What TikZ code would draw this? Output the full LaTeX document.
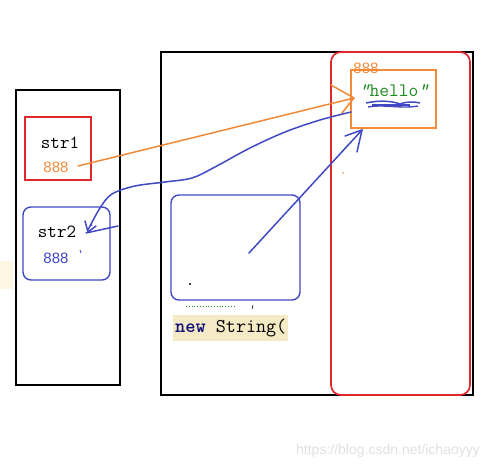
\documentclass[tikz,border=0pt]{standalone}
\usepackage{fontspec}
\setmainfont{Liberation Serif}
\newfontfamily\sansf{Liberation Sans}
\usetikzlibrary{arrows.meta}
\definecolor{cred}{HTML}{E0282C}
\definecolor{corange}{HTML}{F28A3A}
\definecolor{cblue}{HTML}{4048C4}
\definecolor{cgreen}{HTML}{1E8A1E}
\definecolor{cyellow}{HTML}{F4EAC6}
\definecolor{cfaint}{HTML}{FFF7E4}
\definecolor{cnavy}{HTML}{10107A}
\begin{document}
\begin{tikzpicture}[x=1pt,y=-1pt,
  frame/.style={draw=black,line width=1.9pt},
  lbl/.style={font=\ttfamily\fontsize{18.5}{18.5}\selectfont,inner sep=0pt},
  num/.style={font=\sansf\fontsize{15}{15}\selectfont,inner sep=0pt},
  bluebox/.style={draw=cblue,line width=1.4pt,rounded corners=8pt},
  link/.style={line width=1.5pt,line cap=round,line join=round}
]
\useasboundingbox (0,0) rectangle (501,469);
% faint yellow strip on the left edge
\fill[cfaint] (0,261) rectangle (13,289);
% stack frame
\draw[frame] (16,90) rectangle (120,385);
% heap frame
\draw[frame] (161,52) rectangle (473,395);
% string pool
\draw[draw=cred,line width=1.7pt,rounded corners=10pt] (331,52) rectangle (470,395);
% str1
\node[draw=cred,line width=1.7pt,minimum width=66pt,minimum height=63pt,inner sep=0pt] (s1) at (58,148.5) {};
\node[lbl] (s1t) at (60,143) {str1};
\node[num,text=corange] (s1n) at (56,167) {888};
% str2
\node[bluebox,minimum width=87pt,minimum height=73pt,inner sep=0pt] (s2) at (66.5,243.5) {};
\node[lbl] (s2t) at (57,232) {str2};
\node[num,text=cblue] (s2n) at (56,258) {888};
\coordinate (s2tip) at (86,233);
\coordinate (s2tail) at (118,226);
% middle box
\node[bluebox,minimum width=129pt,minimum height=105pt,inner sep=0pt] (mid) at (235.5,247.5) {};
\fill (190,284) circle (1.2pt);
\draw[cgreen,line width=0.8pt,dotted] (186,306) -- (234,306);
\draw[black,line width=0.6pt] (253,305) -- (252,309);
\node[fill=cyellow,inner xsep=2pt,inner ysep=4pt,anchor=west,font=\ttfamily\fontsize{19.5}{19.5}\selectfont] (ns) at (173,328) {\textcolor{cnavy}{\bfseries new} String(};
% hello box
\node[draw=corange,line width=1.7pt,minimum width=85pt,minimum height=58pt,inner sep=0pt] (hb) at (393.5,99) {};
\node[num,text=corange] (hn) at (366,68) {888};
\node[inner sep=0pt,text=cgreen,font=\ttfamily\fontsize{19}{19}\selectfont] (ht) at (394,91) {\textit{"}hello\textit{"}};
\draw[cblue,line width=1.5pt] (366,103) .. controls (380,100) and (392,101) .. (400,104) .. controls (408,101) and (416,102) .. (420,103);
\draw[cblue,line width=1.4pt] (368,107) .. controls (385,104) and (400,109) .. (418,106);
\draw[cblue,line width=1.2pt] (372,105) -- (410,105);
% orange small dot
\fill[corange] (343,173) circle (0.9pt);
% connectors
\coordinate (s1from) at (78,166);
\coordinate (hbin) at (354,98);
\draw[corange,link] (s1from) -- (hbin);
\draw[corange,link] (331,85) -- (hbin) -- (342,113);
\coordinate (hbout) at (351,112);
\draw[cblue,link] plot[smooth,tension=0.55] coordinates {(hbout) (320,120) (285,132) (250,148) (215,167) (192,178) (165,182) (135,186) (112,194) (100,208) (88,230)};
\draw[cblue,link] (85,221) -- (88,232) -- (96,226);
\draw[cblue,link] (s2tail) -- (s2tip);
\draw[cblue,line width=1pt] (91,224) -- (92,226);
\draw[cblue,line width=0.8pt] (80,250) -- (81,253);
\coordinate (midfrom) at (249,253);
\coordinate (hbbot) at (362,130);
\draw[cblue,link] (midfrom) -- (hbbot);
\draw[cblue,link] (345,136) -- (hbbot) -- (357,152);
% watermark
\node[inner sep=0pt,text=black!12,font=\sansf\fontsize{14}{14}\selectfont] (wm) at (388,451) {https://blog.csdn.net/ichaoyyy};
\end{tikzpicture}
\end{document}
